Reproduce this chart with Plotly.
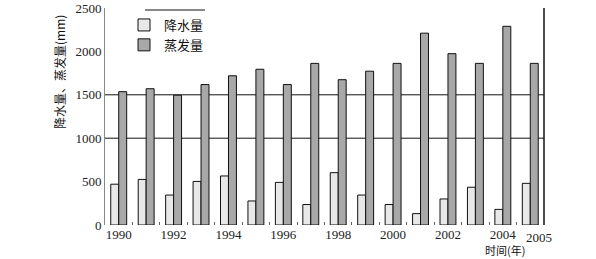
import plotly.graph_objects as go

years = [str(y) for y in range(1990, 2006)]
precip = [470, 525, 345, 502, 565, 277, 491, 236, 603, 345, 236, 131, 300, 435, 180, 480]
evap = [1536, 1570, 1495, 1618, 1719, 1794, 1618, 1862, 1674, 1772, 1862, 2210, 1974, 1862, 2289, 1862]
tick_labels = [y if (int(y) % 2 == 0) else "" for y in years]
y_ticks = [0, 500, 1000, 1500, 2000, 2500]
grid_values = [1000, 1500]

cjk = "Noto Sans CJK SC"
serif = "Liberation Serif"

W, H = 596, 259
l, r, t, b = 105, 52, 8, 34
pw, ph = W - l - r, H - t - b


def px_x(x):
    return (x - l) / pw


def px_y(y):
    return (H - b - y) / ph


fig = go.Figure()
fig.add_trace(go.Bar(x=years, y=precip, name="降水量",
                     marker=dict(color="#e8e8e8", line=dict(color="#111", width=1))))
fig.add_trace(go.Bar(x=years, y=evap, name="蒸发量",
                     marker=dict(color="#a8a8a8", line=dict(color="#111", width=1))))

shapes = []
for g in grid_values:
    shapes.append(dict(type="line", xref="paper", x0=0, x1=1, yref="y", y0=g, y1=g,
                       line=dict(color="#111", width=1), layer="below"))
shapes.append(dict(type="line", xref="paper", x0=1, x1=1, yref="paper", y0=0, y1=1,
                   line=dict(color="#111", width=1.5)))
shapes.append(dict(type="line", xref="paper", x0=px_x(145), x1=px_x(205), yref="paper",
                   y0=px_y(10), y1=px_y(10), line=dict(color="#111", width=1)))

fig.update_layout(
    width=W, height=H,
    margin=dict(l=l, r=r, t=t, b=b, autoexpand=False),
    plot_bgcolor="white", paper_bgcolor="white",
    barmode="group", bargap=0.42, bargroupgap=0,
    showlegend=True,
    legend=dict(x=px_x(124), y=px_y(10), xanchor="left", yanchor="top",
                font=dict(family=cjk, size=13, color="#111"),
                bgcolor="rgba(0,0,0,0)", tracegroupgap=0, itemwidth=30),
    shapes=shapes,
    xaxis=dict(type="category", range=[-0.5, len(years) - 0.5],
               tickvals=years, ticktext=tick_labels, automargin=False,
               tickson="boundaries", ticks="inside", ticklen=3, tickcolor="#666",
               showline=False, showgrid=False,
               tickfont=dict(family=serif, size=13, color="#222"),
               tickangle=0),
    yaxis=dict(range=[0, 2500], tickvals=y_ticks, ticks="", showgrid=False,
               showline=True, linecolor="#888", linewidth=1, zeroline=False,
               ticklabeloverflow="allow", automargin=False,
               tickfont=dict(family=serif, size=13, color="#222")),
    annotations=[
        dict(text="2005", x=px_x(539), xref="paper", y=px_y(237), yref="paper",
             xanchor="center", yanchor="middle", showarrow=False,
             font=dict(family=serif, size=13, color="#222")),
        dict(text="时间(年)", x=px_x(505), xref="paper", y=px_y(250), yref="paper",
             xanchor="center", yanchor="middle", showarrow=False,
             font=dict(family=cjk, size=11, color="#111")),
        dict(text="降水量、蒸发量(mm)", x=px_x(59), xref="paper", y=px_y(72), yref="paper",
             xanchor="center", yanchor="middle", showarrow=False, textangle=-90,
             font=dict(family=cjk, size=12, color="#111")),
    ],
)

fig.write_html("out.html")
